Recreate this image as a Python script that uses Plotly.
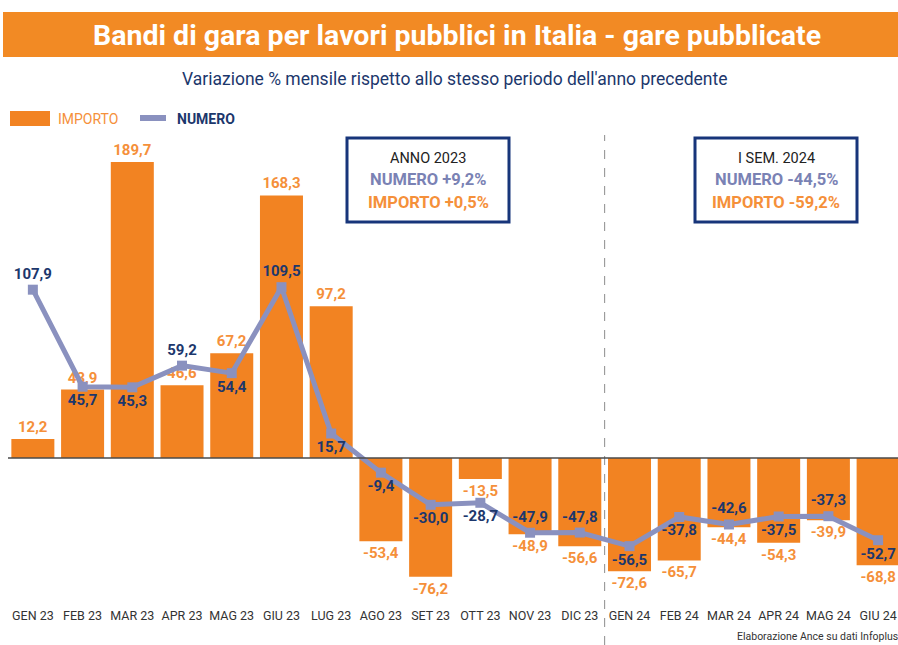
import plotly.graph_objects as go

months = ["GEN 23", "FEB 23", "MAR 23", "APR 23", "MAG 23", "GIU 23", "LUG 23", "AGO 23", "SET 23",
          "OTT 23", "NOV 23", "DIC 23", "GEN 24", "FEB 24", "MAR 24", "APR 24", "MAG 24", "GIU 24"]
importo = [12.2, 43.9, 189.7, 46.6, 67.2, 168.3, 97.2, -53.4, -76.2,
           -13.5, -48.9, -56.6, -72.6, -65.7, -44.4, -54.3, -39.9, -68.8]
numero = [107.9, 45.7, 45.3, 59.2, 54.4, 109.5, 15.7, -9.4, -30.0,
          -28.7, -47.9, -47.8, -56.5, -37.8, -42.6, -37.5, -37.3, -52.7]
numero_label_pos = ["top", "bottom", "bottom", "top", "bottom", "top", "bottom", "bottom", "bottom",
                    "bottom", "top", "top", "bottom", "bottom", "top", "bottom", "top", "bottom"]

W, H = 898, 645
PL, PR, PT, PB = 8, 898, 130, 600

ORANGE = "#F28322"
ORANGE_TXT = "#F5903A"
LAV = "#8A91BF"
LAV_TXT = "#7A82B4"
NAVY = "#1C376C"
FONT = "Roboto, Liberation Sans, sans-serif"


def fmt(v):
    return f"{v:.1f}".replace(".", ",")


def px(x):
    return (x - PL) / (PR - PL)


def py(y):
    return (PB - y) / (PB - PT)


x = list(range(len(months)))

fig = go.Figure()
fig.add_trace(go.Bar(
    x=x, y=importo, marker=dict(color=ORANGE, line=dict(width=0)),
    text=["<b>" + fmt(v) + "</b>" for v in importo], textposition="outside", textangle=0,
    outsidetextfont=dict(family=FONT, size=15, color=ORANGE_TXT),
    cliponaxis=False, showlegend=False, hoverinfo="skip",
))
fig.add_trace(go.Scatter(
    x=x, y=numero, mode="lines+markers+text",
    line=dict(color=LAV, width=5),
    marker=dict(symbol="square", size=10, color=LAV),
    text=["<b>" + fmt(v) + "</b>" for v in numero],
    textposition=[p + " center" for p in numero_label_pos],
    textfont=dict(family=FONT, size=15, color=NAVY),
    cliponaxis=False, showlegend=False, hoverinfo="skip",
))

shapes = []
annotations = []

# title banner
shapes.append(dict(type="rect", xref="paper", yref="paper", x0=px(3), x1=px(905), y0=py(57), y1=py(12),
                   fillcolor="#F28A24", line=dict(width=0), layer="below"))
annotations.append(dict(xref="paper", yref="paper", x=px(457), y=py(35), xanchor="center", yanchor="middle",
                        text="<b>Bandi di gara per lavori pubblici in Italia - gare pubblicate</b>", showarrow=False,
                        font=dict(family=FONT, size=28.5, color="white")))
annotations.append(dict(xref="paper", yref="paper", x=px(455), y=py(79), xanchor="center", yanchor="middle",
                        text="Variazione % mensile rispetto allo stesso periodo dell'anno precedente", showarrow=False,
                        font=dict(family=FONT, size=17.5, color=NAVY)))

# legend
shapes.append(dict(type="rect", xref="paper", yref="paper", x0=px(10), x1=px(50), y0=py(126), y1=py(111),
                   fillcolor=ORANGE, line=dict(width=0)))
annotations.append(dict(xref="paper", yref="paper", x=px(56), y=py(118.5), xanchor="left", yanchor="middle",
                        text="IMPORTO", showarrow=False, font=dict(family=FONT, size=14, color=ORANGE_TXT)))
shapes.append(dict(type="line", xref="paper", yref="paper", x0=px(140), x1=px(166), y0=py(118), y1=py(118),
                   line=dict(color=LAV, width=6)))
annotations.append(dict(xref="paper", yref="paper", x=px(175), y=py(118.5), xanchor="left", yanchor="middle",
                        text="<b>NUMERO</b>", showarrow=False, font=dict(family=FONT, size=14, color=NAVY)))

# boxes
boxes = [
    (347, 509, "ANNO 2023", "NUMERO +9,2%", "IMPORTO +0,5%"),
    (695, 857, "I SEM. 2024", "NUMERO -44,5%", "IMPORTO -59,2%"),
]
for x0, x1, l1, l2, l3 in boxes:
    shapes.append(dict(type="rect", xref="paper", yref="paper", x0=px(x0), x1=px(x1), y0=py(222), y1=py(138),
                       fillcolor="white", line=dict(color="#17357A", width=3)))
    cx = (x0 + x1) / 2
    annotations.append(dict(xref="paper", yref="paper", x=px(cx), y=py(158), xanchor="center", yanchor="middle",
                            text=l1, showarrow=False, font=dict(family=FONT, size=14.5, color="#222222")))
    annotations.append(dict(xref="paper", yref="paper", x=px(cx), y=py(179), xanchor="center", yanchor="middle",
                            text="<b>" + l2 + "</b>", showarrow=False, font=dict(family=FONT, size=16.5, color=LAV_TXT)))
    annotations.append(dict(xref="paper", yref="paper", x=px(cx), y=py(202), xanchor="center", yanchor="middle",
                            text="<b>" + l3 + "</b>", showarrow=False, font=dict(family=FONT, size=16.5, color=ORANGE_TXT)))

# zero line
shapes.append(dict(type="line", xref="paper", yref="y", x0=0, x1=1, y0=0, y1=0,
                   line=dict(color="#4A4A4A", width=1.5)))
# divider between years
shapes.append(dict(type="line", xref="x", yref="paper", x0=11.5, x1=11.5, y0=py(645), y1=py(135),
                   line=dict(color="#8C8C8C", width=1, dash="dash"), layer="below"))

# source
annotations.append(dict(xref="paper", yref="paper", x=px(735), y=py(636), xanchor="left", yanchor="middle",
                        text="Elaborazione Ance su dati Infoplus", showarrow=False,
                        font=dict(family=FONT, size=10.5, color="#333333")))

scale = 1.56
fig.update_layout(
    width=W, height=H,
    margin=dict(l=PL, r=W - PR, t=PT, b=H - PB),
    paper_bgcolor="white", plot_bgcolor="white",
    bargap=0.135,
    xaxis=dict(range=[-0.5, 17.4], tickmode="array", tickvals=x, ticktext=months,
               showgrid=False, zeroline=False, showline=False, ticks="",
               tickfont=dict(family=FONT, size=12.5, color="#333333"), ticklabelstandoff=6),
    yaxis=dict(range=[-(PB - 458) / scale, (458 - PT) / scale], visible=False, showgrid=False, zeroline=False),
    shapes=shapes, annotations=annotations,
    showlegend=False,
)

fig.write_html("out.html", config={"displayModeBar": False},
               post_script="document.body.style.margin='0px';document.body.style.overflow='hidden';")
